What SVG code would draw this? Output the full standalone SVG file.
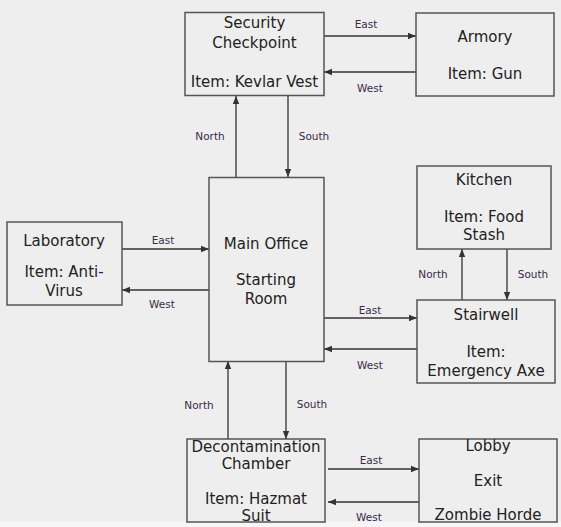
<svg xmlns="http://www.w3.org/2000/svg" width="561" height="527" viewBox="0 0 561 527">
<style>
.box{fill:#eeeeee;stroke:#555555;stroke-width:1.5}
.t{font-family:"DejaVu Sans",Verdana,sans-serif;font-size:15px;fill:#222222;text-anchor:middle}
.l{font-family:"DejaVu Sans",Verdana,sans-serif;font-size:10.5px;fill:#3a2a4a;text-anchor:middle}
.c{stroke:#333333;stroke-width:1.3;fill:none;marker-end:url(#ah)}
</style>
<defs>
<marker id="ah" viewBox="0 0 10 10" refX="10" refY="5" markerWidth="8" markerHeight="8" markerUnits="userSpaceOnUse" orient="auto">
<path d="M0,1 L10,5 L0,9 z" fill="#333333"/>
</marker>
</defs>
<rect x="0" y="0" width="561" height="527" fill="#eeeeee"/>
<rect x="0" y="522" width="561" height="5" fill="#f6f6f6"/>
<g id="connectors">
<line class="c" x1="324" y1="36" x2="416" y2="36"/>
<line class="c" x1="416" y1="72" x2="324" y2="72"/>
<line class="c" x1="236" y1="177" x2="236" y2="96"/>
<line class="c" x1="288" y1="96" x2="288" y2="177"/>
<line class="c" x1="122" y1="249" x2="209" y2="249"/>
<line class="c" x1="209" y1="290" x2="122" y2="290"/>
<line class="c" x1="462" y1="300" x2="462" y2="249"/>
<line class="c" x1="507" y1="249" x2="507" y2="300"/>
<line class="c" x1="324" y1="318" x2="417" y2="318"/>
<line class="c" x1="417" y1="349" x2="324" y2="349"/>
<line class="c" x1="228" y1="439" x2="228" y2="361"/>
<line class="c" x1="286" y1="361" x2="286" y2="439"/>
<line class="c" x1="328" y1="469" x2="419" y2="469"/>
<line class="c" x1="419" y1="502" x2="328" y2="502"/>
<text class="l" x="366" y="28">East</text>
<text class="l" x="370" y="92">West</text>
<text class="l" x="210" y="140">North</text>
<text class="l" x="314" y="140">South</text>
<text class="l" x="163" y="244">East</text>
<text class="l" x="162" y="308">West</text>
<text class="l" x="433" y="278">North</text>
<text class="l" x="533" y="278">South</text>
<text class="l" x="370" y="314">East</text>
<text class="l" x="370" y="369">West</text>
<text class="l" x="199" y="409">North</text>
<text class="l" x="312" y="408">South</text>
<text class="l" x="371" y="464">East</text>
<text class="l" x="369" y="521">West</text>
</g>
<g id="security">
<rect class="box" x="185" y="12.5" width="139" height="83"/>
<text class="t" x="254.5" y="28">Security</text>
<text class="t" x="254.5" y="48">Checkpoint</text>
<text class="t" x="254.5" y="87">Item: Kevlar Vest</text>
</g>
<g id="armory">
<rect class="box" x="416" y="13" width="138" height="83"/>
<text class="t" x="485" y="42">Armory</text>
<text class="t" x="485" y="79">Item: Gun</text>
</g>
<g id="main">
<rect class="box" x="209" y="177.5" width="115" height="184"/>
<text class="t" x="266" y="249">Main Office</text>
<text class="t" x="266" y="285">Starting</text>
<text class="t" x="266" y="304">Room</text>
</g>
<g id="lab">
<rect class="box" x="7" y="222" width="115" height="83"/>
<text class="t" x="64" y="246">Laboratory</text>
<text class="t" x="64" y="277">Item: Anti-</text>
<text class="t" x="64" y="296">Virus</text>
</g>
<g id="kitchen">
<rect class="box" x="417" y="166" width="134" height="83"/>
<text class="t" x="484" y="185">Kitchen</text>
<text class="t" x="484" y="222">Item: Food</text>
<text class="t" x="484" y="240">Stash</text>
</g>
<g id="stairwell">
<rect class="box" x="417" y="300" width="138" height="83"/>
<text class="t" x="486" y="320">Stairwell</text>
<text class="t" x="486" y="357">Item:</text>
<text class="t" x="486" y="376">Emergency Axe</text>
</g>
<g id="decon">
<rect class="box" x="187" y="439" width="138" height="83"/>
<text class="t" x="256" y="452">Decontamination</text>
<text class="t" x="256" y="469">Chamber</text>
<text class="t" x="256" y="504">Item: Hazmat</text>
<text class="t" x="256" y="521">Suit</text>
</g>
<g id="lobby">
<rect class="box" x="419" y="439" width="138" height="83"/>
<text class="t" x="488" y="451">Lobby</text>
<text class="t" x="488" y="486">Exit</text>
<text class="t" x="488" y="520">Zombie Horde</text>
</g>
</svg>
